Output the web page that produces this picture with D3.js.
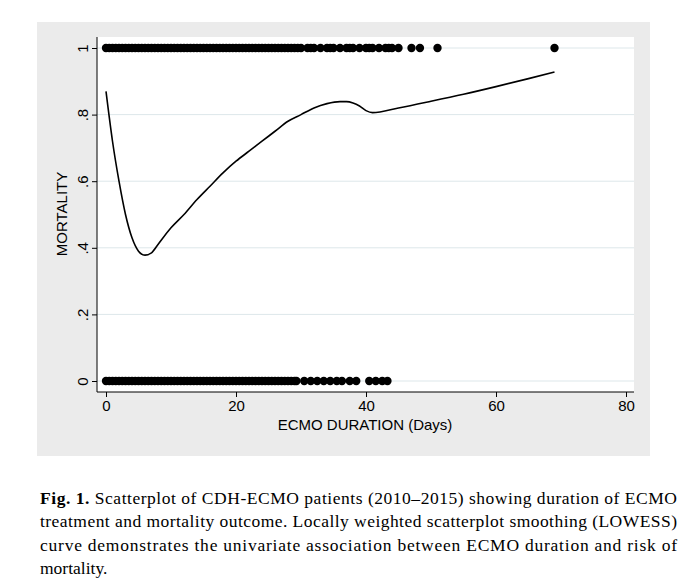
<!DOCTYPE html><html><head><meta charset="utf-8"><script src="https://cdn.jsdelivr.net/npm/d3@7"></script>
<style>body{margin:0;background:#fff}</style></head><body><svg id="c" width="684" height="582"></svg>
<script>
const xTicks=[0,20,40,60,80];
const yTicks=[0,0.2,0.4,0.6,0.8,1];
const yTickLabels=["0",".2",".4",".6",".8","1"];
const diedDays=[0,0.5,1,1.5,2,2.5,3,3.5,4,4.5,5,5.5,6,6.5,7,7.5,8,8.5,9,9.5,10,10.5,11,11.5,12,12.5,13,13.5,14,14.5,15,15.5,16,16.5,17,17.5,18,18.5,19,19.5,20,20.5,21,21.5,22,22.5,23,23.5,24,24.5,25,25.5,26,26.5,27,27.5,28,28.5,29,29.5,30,31,31.5,32,33,34,34.5,35,36,37,37.5,38,39,40,40.5,41,42,43,43.5,44,45,47,48.3,51,69];
const survDays=[0,0.5,1,1.5,2,2.5,3,3.5,4,4.5,5,5.5,6,6.5,7,7.5,8,8.5,9,9.5,10,10.5,11,11.5,12,12.5,13,13.5,14,14.5,15,15.5,16,16.5,17,17.5,18,18.5,19,19.5,20,20.5,21,21.5,22,22.5,23,23.5,24,24.5,25,25.5,26,26.5,27,27.5,28,28.5,29,29.3,30.5,31.5,32.5,33.5,34.5,35.5,36.3,37.5,38.5,40.5,41.5,42.5,43.3];
const lowessX=[0,1,2,3,4,5,6,7,8,10,12,14,16,18,20,22,24,26,28,30,32,34,36,37,38,39,40,41,45,50,55,60,65,69];
const lowessY=[0.87,0.72,0.6,0.5,0.43,0.39,0.378,0.385,0.41,0.46,0.5,0.545,0.585,0.625,0.66,0.69,0.72,0.75,0.78,0.8,0.82,0.833,0.839,0.839,0.835,0.826,0.812,0.806,0.82,0.84,0.861,0.884,0.908,0.928];
const caption=[
 ["Fig. 1."," Scatterplot of CDH-ECMO patients (2010–2015) showing duration of ECMO"],
 ["","treatment and mortality outcome. Locally weighted scatterplot smoothing (LOWESS)"],
 ["","curve demonstrates the univariate association between ECMO duration and risk of"],
 ["","mortality."]];
const svg=d3.select("#c");
svg.append("rect").attr("x",37).attr("y",22).attr("width",613).attr("height",434).attr("fill","#ebebeb");
const x=d3.scaleLinear().domain([0,80]).range([106,626]);
const y=d3.scaleLinear().domain([0,1]).range([381,48]);
svg.append("rect").attr("x",97).attr("y",37).attr("width",537).attr("height",355).attr("fill","#fff");
svg.selectAll(".g").data(yTicks).join("line").attr("x1",97).attr("x2",634).attr("y1",d=>y(d)).attr("y2",d=>y(d)).attr("stroke","#dde7ea").attr("stroke-width",1);
const ax=svg.append("g").attr("transform","translate(0,392)").call(d3.axisBottom(x).tickValues(xTicks).tickSize(5).tickSizeOuter(0));
ax.select(".domain").attr("d","M97,0H634");
ax.selectAll("text").attr("font-family","Liberation Sans").attr("font-size",15).attr("fill","#000");
const ay=svg.append("g").attr("transform","translate(97,0)").call(d3.axisLeft(y).tickValues(yTicks).tickFormat((d,i)=>yTickLabels[i]).tickSize(5).tickSizeOuter(0));
ay.select(".domain").attr("d","M0,37V392");
ay.selectAll("text").attr("font-family","Liberation Sans").attr("font-size",15).attr("fill","#000")
 .attr("transform","rotate(-90)").attr("x",0).attr("y",-9).attr("dy","0").attr("text-anchor","middle");
svg.append("text").attr("x",365).attr("y",430).attr("text-anchor","middle").attr("font-family","Liberation Sans").attr("font-size",15).text("ECMO DURATION (Days)");
svg.append("text").attr("transform","translate(67,214) rotate(-90)").attr("text-anchor","middle").attr("font-family","Liberation Sans").attr("font-size",15).text("MORTALITY");
svg.selectAll(".d").data(diedDays).join("circle").attr("cx",d=>x(d)).attr("cy",y(1)).attr("r",4.2).attr("fill","#000");
svg.selectAll(".s").data(survDays).join("circle").attr("cx",d=>x(d)).attr("cy",y(0)).attr("r",4.2).attr("fill","#000");
svg.append("path").datum(lowessX.map((v,i)=>[v,lowessY[i]])).attr("d",d3.line().x(d=>x(d[0])).y(d=>y(d[1])).curve(d3.curveMonotoneX)).attr("fill","none").attr("stroke","#000").attr("stroke-width",1.6);
const cy=[504,527,551,574];
caption.forEach((l,i)=>{const t=svg.append("text").attr("x",40).attr("y",cy[i]).attr("font-family","Liberation Serif").attr("font-size",17.5);
 if(i<3)t.attr("textLength",637).attr("lengthAdjust","spacing");
 if(l[0])t.append("tspan").attr("font-weight","bold").text(l[0]);
 t.append("tspan").text(l[1]);});
</script></body></html>
